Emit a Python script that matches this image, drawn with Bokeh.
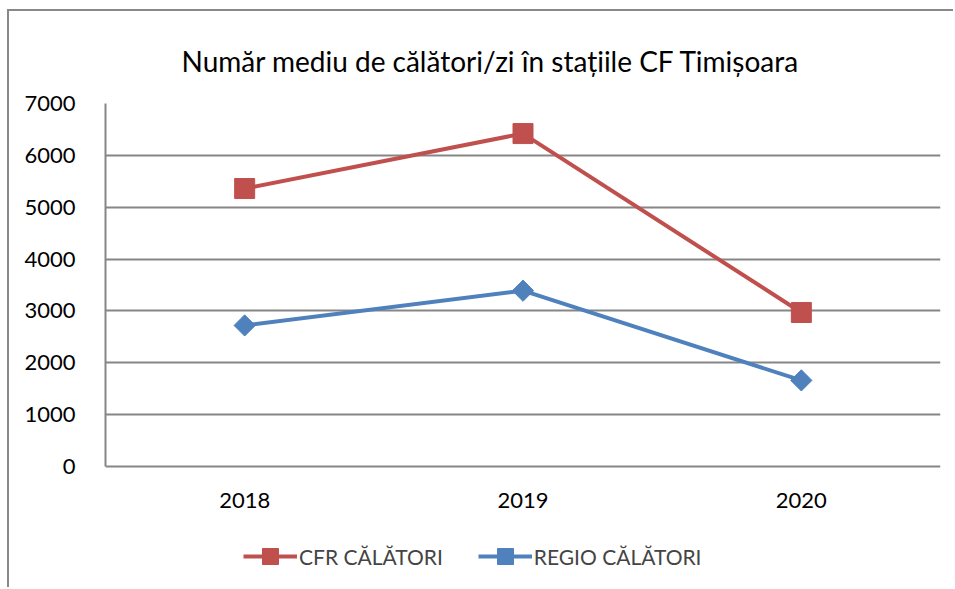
from bokeh.plotting import figure
from bokeh.models import Legend, LegendItem, FixedTicker, Range1d
from bokeh.core.properties import value
from bokeh.embed import file_html
from bokeh.resources import INLINE

years = ["2018", "2019", "2020"]
cfr = [5360, 6420, 2970]
regio = [2720, 3390, 1660]
y_ticks = [0, 1000, 2000, 3000, 4000, 5000, 6000, 7000]
y_min, y_max = 0, 7000

title_text = "Număr mediu de călători/zi în stațiile CF Timișoara"
FONT = "Lato"
GRID = "#868686"
RED = "#C0504D"
BLUE = "#4F81BD"

# frame extends below zero to hold the category labels and the legend
frame_top_px, zero_px, frame_bottom_px = 103, 466, 587
units_per_px = (y_max - y_min) / (zero_px - frame_top_px)
y_start = y_min - (frame_bottom_px - zero_px) * units_per_px
label_y = y_min - 34 * units_per_px

p = figure(width=946, height=578, x_range=years, y_range=Range1d(y_start, y_max),
           output_backend="svg", toolbar_location=None, x_axis_location=None,
           min_border_left=96, min_border_right=15, min_border_top=92, min_border_bottom=2)
p.x_range.range_padding = 0
p.styles = {"margin-left": "7px", "margin-top": "9px",
            "border-left": "2px solid #888888", "border-top": "2px solid #888888"}

p.title.text = title_text
p.title.align = "left"
p.title.offset = 76
p.title.text_font = FONT
p.title.text_font_size = "28px"
p.title.text_font_style = "normal"
p.title.text_color = "#000000"
p.title.standoff = 52

p.outline_line_color = None
p.background_fill_color = "white"
p.border_fill_color = "white"

p.xgrid.grid_line_color = None
p.ygrid.grid_line_color = GRID
p.ygrid.grid_line_width = 2
p.yaxis.ticker = FixedTicker(ticks=y_ticks)
p.yaxis.bounds = (y_min, y_max)

ax = p.yaxis[0]
ax.axis_line_color = GRID
ax.axis_line_width = 2
ax.major_tick_line_color = None
ax.minor_tick_line_color = None
ax.major_label_text_font = FONT
ax.major_label_text_font_size = "22px"
ax.major_label_text_color = "#000000"
ax.major_label_standoff = 24

# category labels under the zero line
p.text(x=years, y=[label_y] * len(years), text=years, text_font=value(FONT),
       text_font_size="22px", text_align="center", text_baseline="middle",
       text_color="#000000")

r1 = p.line(years, cfr, line_color=RED, line_width=4)
m1 = p.scatter(years, cfr, marker="square", size=20, fill_color=RED, line_color=RED)
r2 = p.line(years, regio, line_color=BLUE, line_width=4)
m2 = p.scatter(years, regio, marker="square", angle=0.7854, size=15,
               fill_color=BLUE, line_color=BLUE)

legend = Legend(items=[LegendItem(label="CFR CĂLĂTORI", renderers=[r1, m1]),
                       LegendItem(label="REGIO CĂLĂTORI", renderers=[r2, m2])],
                orientation="horizontal", location=(138, 11),
                glyph_width=54, glyph_height=40, spacing=35, label_standoff=2,
                label_text_font=FONT, label_text_font_size="21px",
                border_line_color=None, background_fill_alpha=0, margin=0)
p.add_layout(legend, "center")

open("out.html", "w").write(file_html(p, INLINE))
